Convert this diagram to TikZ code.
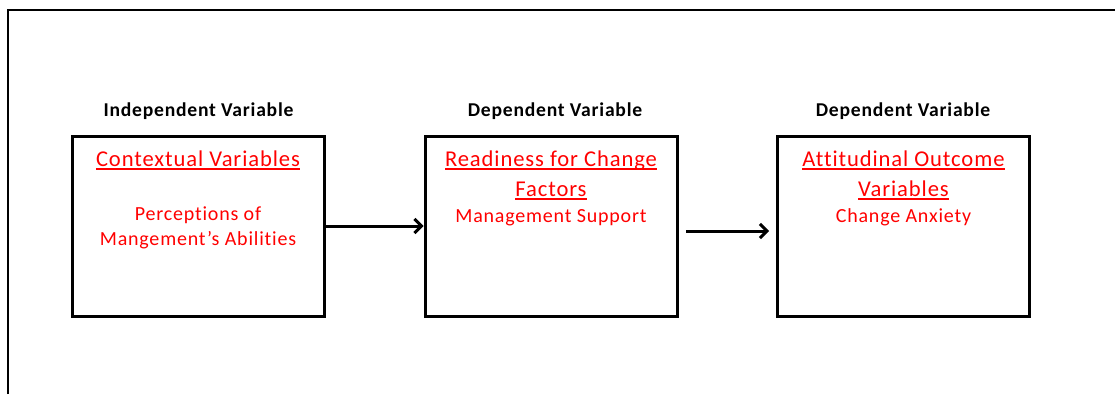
\documentclass[tikz,border=0pt]{standalone}
\usepackage{fontspec}
\setmainfont{Carlito}
\newfontfamily\widefont[LetterSpace=4,Ligatures=NoCommon]{Carlito}
\usetikzlibrary{arrows.meta}
% underline at a fixed distance below the baseline, crossing descenders
\newcommand\redul[1]{\setbox0\hbox{#1}\rlap{\rule[-3.6pt]{\wd0}{1.8pt}}\box0}
\definecolor{txtred}{RGB}{255,0,0}
\tikzset{
  frameline/.style={line width=2pt},
  varbox/.style={draw, line width=3pt, minimum width=252pt, minimum height=180pt, inner sep=0pt},
  header/.style={font=\widefont\fontsize{19.6}{22}\selectfont\bfseries, anchor=base, inner sep=0pt},
  title/.style={font=\widefont\fontsize{22.6}{26}\selectfont, text=txtred, anchor=base, inner sep=0pt},
  detail/.style={font=\widefont\fontsize{20}{22}\selectfont, text=txtred, anchor=base, inner sep=0pt},
  flow/.style={line width=3pt, -{Straight Barb[length=7pt,width=14pt,line width=3pt]}}
}
\begin{document}
\begin{tikzpicture}[x=1pt,y=-1pt]
\useasboundingbox (0,0) rectangle (1115,394);
% outer frame (top and left edges only)
\draw[frameline] (8,394) -- (8,10) -- (1115,10);

% boxes
\node[varbox] (b1) at (198.5,226.5) {};
\node[varbox] (b2) at (551,226.5) {};
\node[varbox] (b3) at (903.5,226.5) {};

% headers
\node[header] (h1) at (198.5,116) {Independent Variable};
\node[header] (h2) at (555,116) {Dependent Variable};
\node[header] (h3) at (903,116) {Dependent Variable};

% box 1
\node[title]  (t1)  at (198,166) {\redul{Contextual Variables}};
\node[detail] (d1a) at (198,220) {Perceptions of};
\node[detail] (d1b) at (198,245.5) {Mangement’s Abilities};

% box 2
\node[title]  (t2a) at (551,166) {\redul{Readiness for Change}};
\node[title]  (t2b) at (551,196) {\redul{Factors}};
\node[detail] (d2)  at (551,222) {Management Support};

% box 3
\node[title]  (t3a) at (903.5,166) {\redul{Attitudinal Outcome}};
\node[title]  (t3b) at (903.5,196) {\redul{Variables}};
\node[detail] (d3)  at (903.5,222.5) {Change Anxiety};

% connectors
\coordinate (a2s) at (686,231);
\coordinate (a2e) at (769,231);
\draw[flow] (b1.east |- 0,226) -- (b2.west |- 0,226);
\draw[flow] (a2s) -- (a2e);
\end{tikzpicture}
\end{document}
